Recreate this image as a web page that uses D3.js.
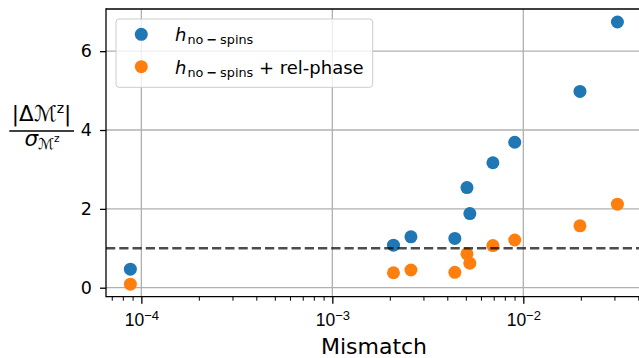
<!DOCTYPE html>
<html>
<head>
<meta charset="utf-8">
<script src="https://cdn.jsdelivr.net/npm/d3@7"></script>
<style>
  html, body { margin: 0; padding: 0; background: #fff; }
  svg { display: block; font-family: "DejaVu Sans", sans-serif; }
</style>
</head>
<body>
<svg id="chart" width="639" height="358"></svg>
<script>
// Mismatch of each waveform (shared by both series)
const mismatch = [8.76e-5, 2.09e-3, 2.58e-3, 4.38e-3, 5.07e-3, 5.25e-3, 6.93e-3, 9.02e-3, 1.98e-2, 3.11e-2];
// |ΔM^z| / σ for the two template families
const noSpins = [0.47, 1.08, 1.29, 1.25, 2.54, 1.88, 3.17, 3.69, 4.98, 6.74];
const noSpinsRelPhase = [0.09, 0.38, 0.45, 0.39, 0.86, 0.62, 1.07, 1.21, 1.57, 2.12];
const seriesNames = ["h_no-spins", "h_no-spins + rel-phase"];
const seriesColors = ["#1f77b4", "#ff7f0e"];
const xTickExps = [-4, -3, -2];
const yTicks = [0, 2, 4, 6];
const threshold = 1;

(function () {
const svg = d3.select("#chart");
const mLeft = 106, mRight = 656.8, mTop = 9, mBottom = 296.7;

const x = d3.scaleLog().domain([6.53e-5, 0.05]).range([mLeft, mRight]);
const y = d3.scaleLinear().domain([-0.228, 7.07]).range([mBottom, mTop]);

svg.append("defs").append("clipPath").attr("id", "plotclip")
  .append("rect").attr("x", mLeft).attr("y", mTop).attr("width", mRight - mLeft).attr("height", mBottom - mTop);

// grid
const grid = svg.append("g").attr("stroke", "#b0b0b0").attr("stroke-width", 1.3);
xTickExps.forEach(e => {
  grid.append("line").attr("x1", x(Math.pow(10, e))).attr("x2", x(Math.pow(10, e)))
    .attr("y1", mTop).attr("y2", mBottom);
});
yTicks.forEach(v => {
  grid.append("line").attr("x1", mLeft).attr("x2", mRight).attr("y1", y(v)).attr("y2", y(v));
});

// points
const plot = svg.append("g").attr("clip-path", "url(#plotclip)");
[noSpins, noSpinsRelPhase].forEach((vals, i) => {
  plot.append("g").selectAll("circle").data(vals).join("circle")
    .attr("cx", (d, j) => x(mismatch[j]))
    .attr("cy", d => y(d))
    .attr("r", 6.5)
    .attr("fill", seriesColors[i]);
});

// threshold line
plot.append("line")
  .attr("x1", mLeft).attr("x2", mRight)
  .attr("y1", y(threshold)).attr("y2", y(threshold))
  .attr("stroke", "#000").attr("stroke-opacity", 0.7)
  .attr("stroke-width", 2.5).attr("stroke-dasharray", "9.25,4");

// minor x ticks
const xMinor = [];
for (let e = -5; e <= -2; e++) for (let m = 2; m <= 9; m++) {
  const v = m * Math.pow(10, e);
  if (v >= x.domain()[0] && v <= x.domain()[1]) xMinor.push(v);
}
const gxm = svg.append("g").attr("transform", `translate(0,${mBottom})`)
  .call(d3.axisBottom(x).tickValues(xMinor).tickSize(4).tickFormat(""));
gxm.select(".domain").remove();
gxm.selectAll("line").attr("stroke-width", 1).attr("stroke", "#000");

// major x ticks with power-of-ten labels
const gx = svg.append("g").attr("transform", `translate(0,${mBottom})`)
  .call(d3.axisBottom(x).tickValues(xTickExps.map(e => Math.pow(10, e))).tickSize(7).tickFormat(""));
gx.select(".domain").remove();
gx.selectAll("line").attr("stroke-width", 1.3).attr("stroke", "#000");
gx.selectAll(".tick").each(function (d, i) {
  const t = d3.select(this).append("text").attr("fill", "#000").attr("y", 29.5)
    .attr("text-anchor", "middle").attr("font-size", 17.5);
  t.append("tspan").text("10");
  t.append("tspan").attr("font-size", 13).attr("dy", -6.5).text("\u2212" + (-xTickExps[i]));
});

const gy = svg.append("g").attr("transform", `translate(${mLeft},0)`)
  .call(d3.axisLeft(y).tickValues(yTicks).tickSize(6).tickPadding(8).tickFormat(d3.format("d")));
gy.select(".domain").remove();
gy.selectAll("line").attr("stroke-width", 1.3).attr("stroke", "#000");
gy.selectAll("text").attr("font-size", 17.5).attr("fill", "#000").attr("font-family", "DejaVu Sans");

// spines
svg.append("line").attr("x1", mLeft).attr("x2", mLeft).attr("y1", mTop).attr("y2", mBottom)
  .attr("stroke", "#000").attr("stroke-width", 1.3).attr("stroke-linecap", "square");
svg.append("line").attr("x1", mLeft).attr("x2", 639).attr("y1", mBottom).attr("y2", mBottom)
  .attr("stroke", "#000").attr("stroke-width", 1.3);
svg.append("line").attr("x1", mLeft).attr("x2", 639).attr("y1", mTop).attr("y2", mTop)
  .attr("stroke", "#000").attr("stroke-width", 1.3);

// x label
svg.append("text").attr("x", 374).attr("y", 354).attr("text-anchor", "middle")
  .attr("font-size", 22).attr("fill", "#000").text("Mismatch");

// y label as a fraction
const ylab = svg.append("g");
const num = ylab.append("text").attr("x", 41.5).attr("y", 121).attr("text-anchor", "middle")
  .attr("font-size", 21.5).attr("fill", "#000");
num.append("tspan").text("|\u0394");
num.append("tspan").attr("font-style", "italic").text("\u2133");
num.append("tspan").attr("font-size", 14).attr("dy", -8).text("z");
num.append("tspan").attr("dy", 8).text("|");
ylab.append("line").attr("x1", 9.3).attr("x2", 74).attr("y1", 131).attr("y2", 131)
  .attr("stroke", "#000").attr("stroke-width", 1.3);
const den = ylab.append("text").attr("x", 42).attr("y", 146).attr("text-anchor", "middle")
  .attr("font-size", 21.5).attr("fill", "#000");
den.append("tspan").attr("font-style", "italic").text("\u03c3");
den.append("tspan").attr("font-style", "italic").attr("font-size", 15).attr("dy", 3).text("\u2133");
den.append("tspan").attr("font-size", 10.5).attr("dy", -7).text("z");

// legend
const lg = svg.append("g");
lg.append("rect").attr("x", 116).attr("y", 19).attr("width", 256.7).attr("height", 68.3)
  .attr("rx", 3).attr("fill", "#fff").attr("fill-opacity", 0.8)
  .attr("stroke", "#cccccc").attr("stroke-width", 1);
const rowsY = [34.3, 66.7];
seriesNames.forEach((name, i) => {
  lg.append("circle").attr("cx", 141.3).attr("cy", rowsY[i]).attr("r", 6.5).attr("fill", seriesColors[i]);
  const t = lg.append("text").attr("x", 175).attr("y", rowsY[i] + 7).attr("font-size", 18).attr("fill", "#000");
  t.append("tspan").attr("font-style", "italic").text("h");
  t.append("tspan").attr("font-size", 12.8).attr("dy", 3).attr("dx", 1).text("no");
  t.append("tspan").attr("font-size", 12.8).attr("font-weight", "bold").attr("dx", 3).text("\u2212");
  t.append("tspan").attr("font-size", 12.8).attr("dx", 3).text("spins");
  if (name.includes("rel-phase")) {
    t.append("tspan").attr("dy", -3).text(" + rel-phase");
  }
});
})();
</script>
</body>
</html>
